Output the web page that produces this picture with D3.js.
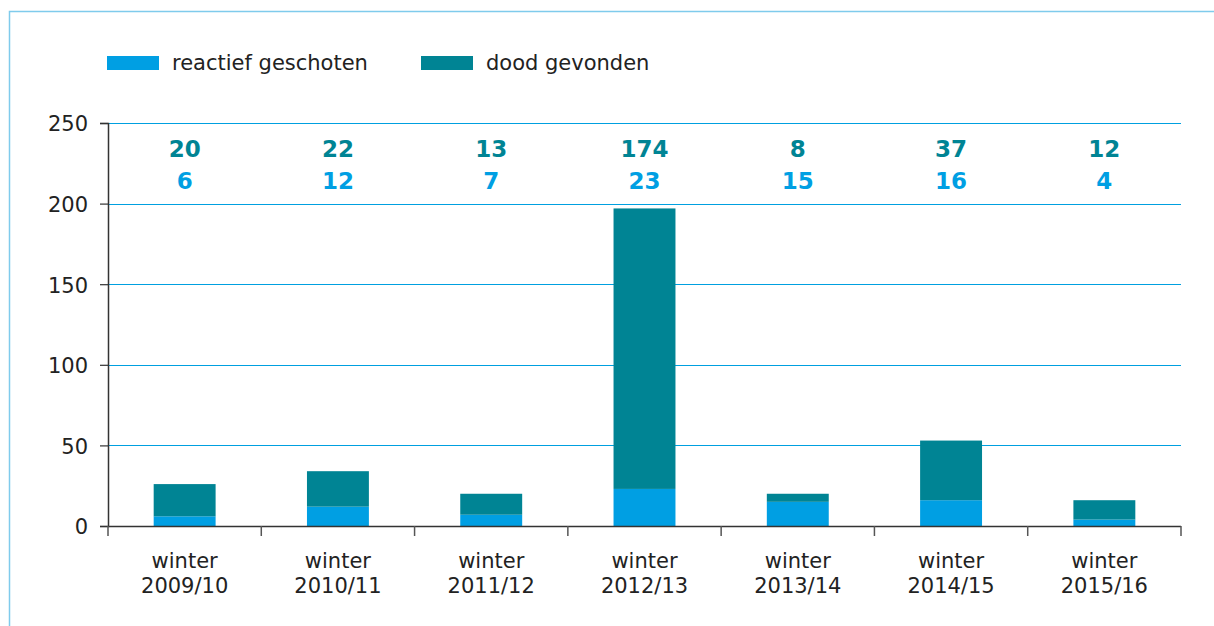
<!DOCTYPE html>
<html><head><meta charset="utf-8">
<script src="https://cdn.jsdelivr.net/npm/d3@7/dist/d3.min.js"></script>
<style>
html,body{margin:0;padding:0;background:#fff;}
svg{display:block;font-family:"DejaVu Sans",Verdana,sans-serif;}
</style></head>
<body>
<svg id="c" width="1214" height="626"></svg>
<script>
const categories = ["winter 2009/10","winter 2010/11","winter 2011/12","winter 2012/13","winter 2013/14","winter 2014/15","winter 2015/16"];
const reactiefGeschoten = [6,12,7,23,15,16,4];
const doodGevonden = [20,22,13,174,5,37,12];
const labelsDood = [20,22,13,174,8,37,12];
const labelsReactief = [6,12,7,23,15,16,4];
const seriesNames = ["reactief geschoten","dood gevonden"];
const yTicks = [0,50,100,150,200,250];

const colReactief = "#009fe3";
const colDood = "#008494";
const svg = d3.select("#c");

// frame
svg.append("path").attr("d","M9.5,626 V11.5 H1214").attr("fill","none").attr("stroke","#7fcbec").attr("stroke-width",1.5);

const pLeft=108, pRight=1181, pTop=123, pBottom=526;
const x = d3.scaleBand().domain(categories).range([pLeft,pRight]).paddingInner(0).paddingOuter(0);
const y = d3.scaleLinear().domain([0,250]).range([pBottom,pTop]);

// grid
svg.append("g").selectAll("line").data(yTicks.filter(d=>d>0)).join("line")
  .attr("x1",pLeft).attr("x2",pRight).attr("y1",d=>Math.round(y(d))+0.5).attr("y2",d=>Math.round(y(d))+0.5)
  .attr("stroke","#00a0e0").attr("stroke-width",1);

// bars
const data = categories.map((c,i)=>({c, r:reactiefGeschoten[i], d:doodGevonden[i]}));
const bw = x.bandwidth()*0.404;
const off = (x.bandwidth()-bw)/2;
svg.append("g").selectAll("rect").data(data).join("rect")
  .attr("x",d=>x(d.c)+off).attr("width",bw)
  .attr("y",d=>y(d.r)).attr("height",d=>y(0)-y(d.r)).attr("fill",colReactief);
svg.append("g").selectAll("rect").data(data).join("rect")
  .attr("x",d=>x(d.c)+off).attr("width",bw)
  .attr("y",d=>y(d.r+d.d)).attr("height",d=>y(d.r)-y(d.r+d.d)).attr("fill",colDood);

// y axis
const yAxis = svg.append("g").attr("transform",`translate(${pLeft},0)`)
  .call(d3.axisLeft(y).tickValues(yTicks).tickSize(8).tickPadding(12));
yAxis.select(".domain").attr("stroke","#333").attr("stroke-width",1.5);
yAxis.selectAll(".tick line").attr("stroke","#333").attr("stroke-width",1.2);
yAxis.selectAll("text").attr("font-size",21).attr("fill","#222").attr("font-family","DejaVu Sans").attr("dy","0.38em");

// x axis
const xg = svg.append("g").attr("transform",`translate(0,${pBottom})`);
xg.append("line").attr("x1",pLeft).attr("x2",pRight).attr("y1",0.5).attr("y2",0.5).attr("stroke","#333").attr("stroke-width",1.5);
const bounds = categories.map(c=>x(c)).concat([pRight]);
xg.selectAll("line.t").data(bounds).join("line").attr("class","t")
  .attr("x1",d=>d).attr("x2",d=>d).attr("y1",0).attr("y2",10).attr("stroke","#555").attr("stroke-width",1.5);
const xl = xg.selectAll("text.cat").data(categories).join("text").attr("class","cat")
  .attr("x",d=>x(d)+x.bandwidth()/2).attr("text-anchor","middle").attr("font-size",21).attr("fill","#222");
xl.append("tspan").attr("x",d=>x(d)+x.bandwidth()/2).attr("y",42).text(d=>d.split(" ")[0]);
xl.append("tspan").attr("x",d=>x(d)+x.bandwidth()/2).attr("y",67).text(d=>d.split(" ")[1]);

// value labels
svg.append("g").selectAll("text").data(categories).join("text")
  .attr("x",d=>x(d)+x.bandwidth()/2).attr("y",157).attr("text-anchor","middle")
  .attr("font-size",23).attr("font-weight","bold").attr("fill",colDood).text((d,i)=>labelsDood[i]);
svg.append("g").selectAll("text").data(categories).join("text")
  .attr("x",d=>x(d)+x.bandwidth()/2).attr("y",189).attr("text-anchor","middle")
  .attr("font-size",23).attr("font-weight","bold").attr("fill",colReactief).text((d,i)=>labelsReactief[i]);

// legend
const legX = [107,421];
const lg = svg.append("g").selectAll("g").data(seriesNames).join("g").attr("transform",(d,i)=>`translate(${legX[i]},56)`);
lg.append("rect").attr("width",52).attr("height",14).attr("fill",(d,i)=>i===0?colReactief:colDood);
lg.append("text").attr("x",65).attr("y",14).attr("font-size",21).attr("fill","#222").text(d=>d);
</script>
</body></html>
